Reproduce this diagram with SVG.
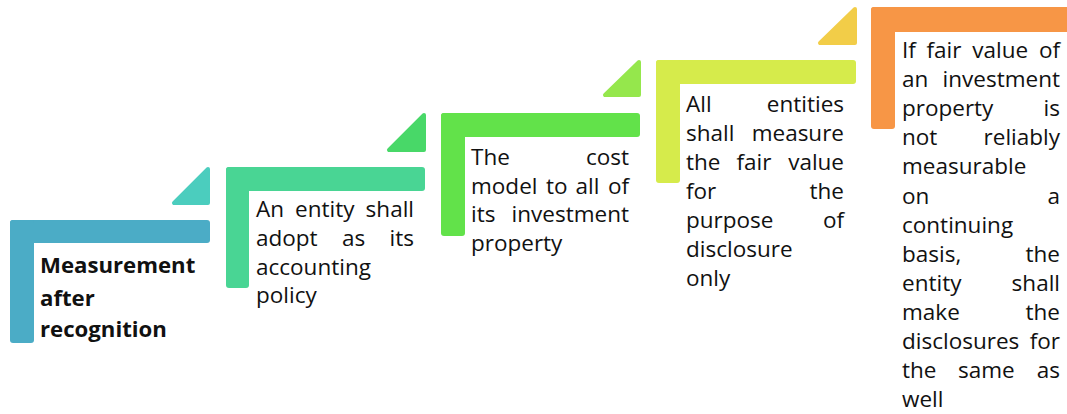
<svg xmlns="http://www.w3.org/2000/svg" width="1067" height="414" viewBox="0 0 1067 414">
<style>
  .t { font-family: "Open Sans", "Liberation Sans", sans-serif; font-size: 22.5px; fill: #111; }
  .b { font-family: "Open Sans", "Liberation Sans", sans-serif; font-size: 22.2px; font-weight: bold; fill: #111; }
  .e { text-anchor: end; }
  .tri { stroke-width: 4; stroke-linejoin: round; }
</style>
<rect width="1067" height="414" fill="#ffffff"/>
<g id="connectors">
  <polygon class="tri" points="174,203 208,203 208,169" fill="#4BCDBE" stroke="#4BCDBE"/>
  <polygon class="tri" points="389,150 424,150 424,115" fill="#48D868" stroke="#48D868"/>
  <polygon class="tri" points="605,95 639,95 639,62" fill="#95E74C" stroke="#95E74C"/>
  <polygon class="tri" points="820,43 855,43 855,9" fill="#F2CD48" stroke="#F2CD48"/>
</g>
<g id="step1">
  <rect x="10" y="220" width="200" height="23" rx="3" fill="#4BACC6"/>
  <rect x="10" y="220" width="24" height="123" rx="3" fill="#4BACC6"/>
  <text class="b" x="40" y="273">Measurement</text>
  <text class="b" x="40" y="306">after</text>
  <text class="b" x="40" y="337">recognition</text>
</g>
<g id="step2">
  <rect x="226" y="167" width="199" height="24" rx="3" fill="#49D594"/>
  <rect x="226" y="167" width="23" height="121" rx="3" fill="#49D594"/>
  <text class="t" x="256" y="217">An</text>
  <text class="t" x="295" y="217">entity</text>
  <text class="t e" x="414" y="217">shall</text>
  <text class="t" x="256" y="246">adopt</text>
  <text class="t" x="342" y="246">as</text>
  <text class="t e" x="414" y="246">its</text>
  <text class="t" x="256" y="274.5">accounting</text>
  <text class="t" x="256" y="303">policy</text>
</g>
<g id="step3">
  <rect x="441" y="113" width="199" height="24" rx="3" fill="#62E24A"/>
  <rect x="441" y="113" width="24" height="123" rx="3" fill="#62E24A"/>
  <text class="t" x="471" y="165">The</text>
  <text class="t e" x="629" y="165">cost</text>
  <text class="t" x="471" y="193.5">model</text>
  <text class="t" x="546" y="193.5">to</text>
  <text class="t" x="575.5" y="193.5">all</text>
  <text class="t e" x="629" y="193.5">of</text>
  <text class="t" x="471" y="222">its</text>
  <text class="t e" x="629" y="222">investment</text>
  <text class="t" x="471" y="250.5">property</text>
</g>
<g id="step4">
  <rect x="656" y="60" width="200" height="24" rx="3" fill="#D6EB4B"/>
  <rect x="656" y="60" width="24" height="123" rx="3" fill="#D6EB4B"/>
  <text class="t" x="686" y="112">All</text>
  <text class="t e" x="844" y="112">entities</text>
  <text class="t" x="686" y="141">shall</text>
  <text class="t e" x="844" y="141">measure</text>
  <text class="t" x="686" y="170">the</text>
  <text class="t" x="736.5" y="170">fair</text>
  <text class="t e" x="844" y="170">value</text>
  <text class="t" x="686" y="199">for</text>
  <text class="t e" x="844" y="199">the</text>
  <text class="t" x="686" y="228">purpose</text>
  <text class="t e" x="844" y="228">of</text>
  <text class="t" x="686" y="257">disclosure</text>
  <text class="t" x="686" y="286">only</text>
</g>
<g id="step5">
  <rect x="871" y="7" width="200" height="25" rx="3" fill="#F79646"/>
  <rect x="871" y="7" width="24" height="122" rx="3" fill="#F79646"/>
  <text class="t" x="902" y="58">If</text>
  <text class="t" x="926.5" y="58">fair</text>
  <text class="t" x="972.3" y="58">value</text>
  <text class="t e" x="1060" y="58">of</text>
  <text class="t" x="902" y="87.1">an</text>
  <text class="t e" x="1060" y="87.1">investment</text>
  <text class="t" x="902" y="116.2">property</text>
  <text class="t e" x="1060" y="116.2">is</text>
  <text class="t" x="902" y="145.3">not</text>
  <text class="t e" x="1060" y="145.3">reliably</text>
  <text class="t" x="902" y="174.4">measurable</text>
  <text class="t" x="902" y="203.5">on</text>
  <text class="t e" x="1060" y="203.5">a</text>
  <text class="t" x="902" y="232.6">continuing</text>
  <text class="t" x="902" y="261.7">basis,</text>
  <text class="t e" x="1060" y="261.7">the</text>
  <text class="t" x="902" y="290.8">entity</text>
  <text class="t e" x="1060" y="290.8">shall</text>
  <text class="t" x="902" y="319.9">make</text>
  <text class="t e" x="1060" y="319.9">the</text>
  <text class="t" x="902" y="349">disclosures</text>
  <text class="t e" x="1060" y="349">for</text>
  <text class="t" x="902" y="378.1">the</text>
  <text class="t" x="958" y="378.1">same</text>
  <text class="t e" x="1060" y="378.1">as</text>
  <text class="t" x="902" y="407.2">well</text>
</g>
</svg>
